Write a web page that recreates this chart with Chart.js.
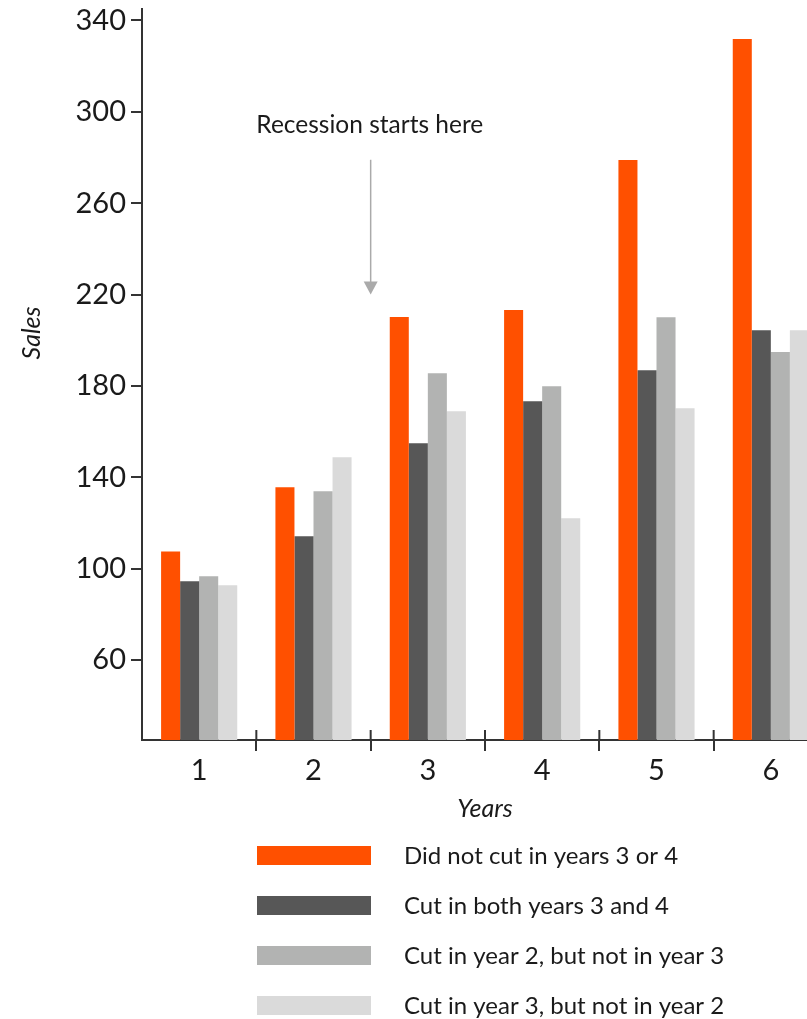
<!DOCTYPE html>
<html>
<head>
<meta charset="utf-8">
<title>Sales by years</title>
<script src="https://cdn.jsdelivr.net/npm/chart.js@4.4.0/dist/chart.umd.min.js"></script>
<style>
  html, body { margin: 0; padding: 0; background: #fff; overflow: hidden; }
  #wrap { width: 807px; height: 1019px; overflow: hidden; }
</style>
</head>
<body>
<div id="wrap"><canvas id="salesChart" width="830" height="1019"></canvas></div>
<script>
// data
const years = ['1', '2', '3', '4', '5', '6'];
const yTicks = [60, 100, 140, 180, 220, 260, 300, 340];

const didNotCut = [107.5, 135.6, 210.2, 213.2, 278.9, 331.9];
const cutBoth   = [94.5, 114.2, 154.9, 173.3, 186.9, 204.4];
const cutYear2  = [96.7, 133.9, 185.6, 179.9, 210.1, 194.8];
const cutYear3  = [92.7, 148.8, 168.9, 122.1, 170.2, 204.4];

const seriesLabels = [
  'Did not cut in years 3 or 4',
  'Cut in both years 3 and 4',
  'Cut in year 2, but not in year 3',
  'Cut in year 3, but not in year 2'
];
const seriesColors = ['#ff5000', '#575757', '#b2b3b2', '#dadada'];

const axisColor = '#333';
const textColor = '#1a1a1a';
const fontFamily = 'Lato, "Open Sans", sans-serif';

// annotation: text at the 1|2 boundary, arrow on the 2|3 boundary
const noteText = 'Recession starts here';
const noteY = 294;
const arrowFrom = 279;
const arrowTo = 220;

const extrasPlugin = {
  id: 'extras',
  afterDraw(chart) {
    const {ctx, chartArea} = chart;
    const x = chart.scales.x;
    const y = chart.scales.y;
    const edge = (i) => (x.getPixelForValue(i - 1) + x.getPixelForValue(i)) / 2;

    ctx.save();

    // the x ticks cross the axis, draw the part above it
    ctx.strokeStyle = axisColor;
    ctx.lineWidth = 2;
    for (let i = 1; i < years.length; i++) {
      const px = edge(i);
      ctx.beginPath();
      ctx.moveTo(px, chartArea.bottom - 10);
      ctx.lineTo(px, chartArea.bottom);
      ctx.stroke();
    }

    // y title
    ctx.fillStyle = textColor;
    ctx.font = 'italic 25px ' + fontFamily;
    ctx.textAlign = 'center';
    ctx.textBaseline = 'middle';
    ctx.save();
    ctx.translate(32, 333);
    ctx.rotate(-Math.PI / 2);
    ctx.fillText('Sales', 0, 0);
    ctx.restore();

    // recession note + arrow
    ctx.font = '24.5px ' + fontFamily;
    ctx.textAlign = 'left';
    ctx.fillText(noteText, edge(1), y.getPixelForValue(noteY));

    const ax = edge(2);
    const ay1 = y.getPixelForValue(arrowFrom);
    const ay2 = y.getPixelForValue(arrowTo);
    ctx.strokeStyle = '#aaaaaa';
    ctx.fillStyle = '#aaaaaa';
    ctx.lineWidth = 1.5;
    ctx.beginPath();
    ctx.moveTo(ax, ay1);
    ctx.lineTo(ax, ay2 - 10);
    ctx.stroke();
    ctx.beginPath();
    ctx.moveTo(ax - 7, ay2 - 13);
    ctx.lineTo(ax + 7, ay2 - 13);
    ctx.lineTo(ax, ay2);
    ctx.closePath();
    ctx.fill();

    // legend, one item per row
    ctx.font = '24px ' + fontFamily;
    chart.data.datasets.forEach((ds, i) => {
      const top = 846 + i * 50;
      ctx.fillStyle = ds.backgroundColor;
      ctx.fillRect(257, top, 114, 19);
      ctx.fillStyle = textColor;
      ctx.fillText(ds.label, 404, top + 10);
    });

    ctx.restore();
  }
};

const seriesData = [didNotCut, cutBoth, cutYear2, cutYear3];

new Chart(document.getElementById('salesChart'), {
  type: 'bar',
  data: {
    labels: years,
    datasets: seriesData.map((d, i) => ({
      label: seriesLabels[i],
      data: d,
      backgroundColor: seriesColors[i],
      borderWidth: 0,
      barPercentage: 1,
      categoryPercentage: 0.666
    }))
  },
  options: {
    responsive: false,
    animation: false,
    layout: { padding: { top: 9, right: 2, bottom: 179, left: 0 } },
    plugins: {
      legend: { display: false },
      tooltip: { enabled: false }
    },
    scales: {
      x: {
        afterFit: (scale) => { scale.height = 100; scale.paddingLeft = 0; scale.paddingRight = 0; },
        grid: {
          offset: true,
          drawOnChartArea: false,
          tickLength: 11,
          lineWidth: 2,
          color: (c) => c.index === 0 ? 'rgba(0,0,0,0)' : axisColor
        },
        border: { color: axisColor, width: 2 },
        ticks: {
          color: textColor,
          padding: 2,
          font: { family: fontFamily, size: 29 }
        },
        title: {
          display: true,
          text: 'Years',
          color: textColor,
          padding: { top: 0, bottom: 16 },
          font: { family: fontFamily, size: 25, style: 'italic' }
        }
      },
      y: {
        min: 25,
        max: 345,
        afterFit: (scale) => { scale.width = 142; scale.paddingTop = 0; scale.paddingBottom = 0; },
        afterBuildTicks: (scale) => { scale.ticks = yTicks.map(v => ({ value: v })); },
        grid: {
          drawOnChartArea: false,
          tickLength: 11,
          lineWidth: 2,
          color: axisColor
        },
        border: { color: axisColor, width: 2 },
        ticks: {
          color: textColor,
          padding: 5,
          font: { family: fontFamily, size: 29 }
        }
      }
    }
  },
  plugins: [extrasPlugin]
});
</script>
</body>
</html>
